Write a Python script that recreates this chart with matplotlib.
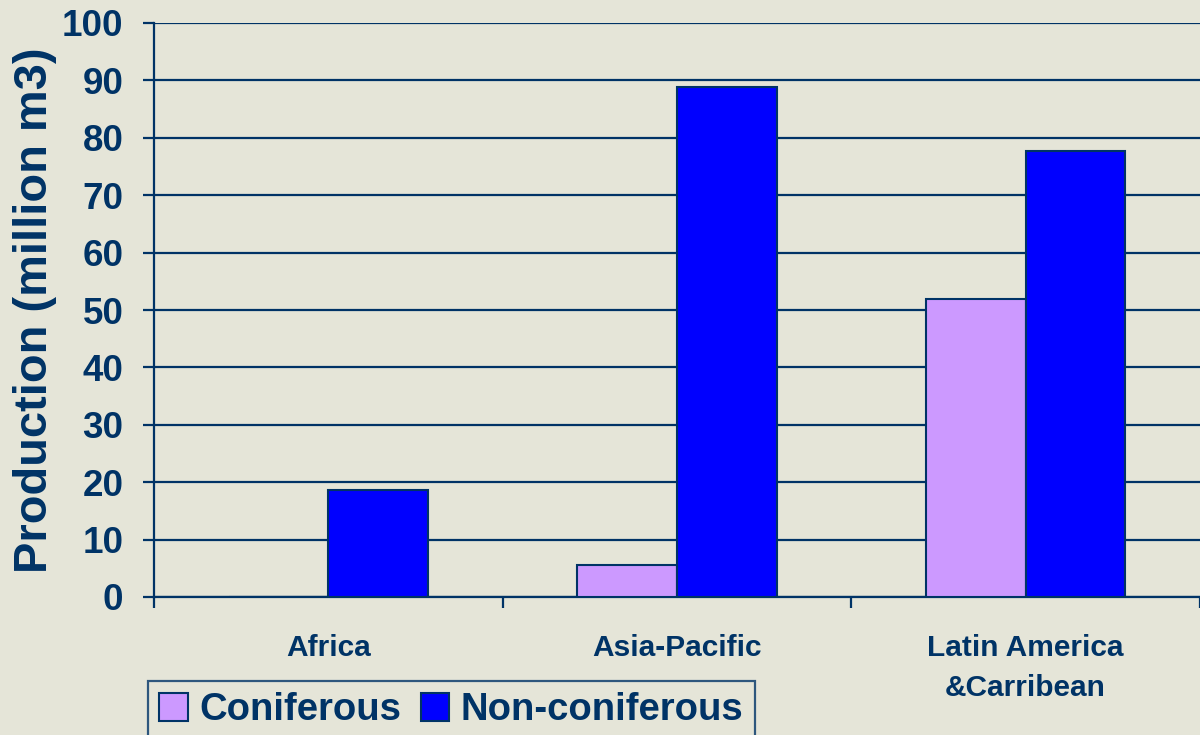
import matplotlib.pyplot as plt
import numpy as np

regions = ["Africa", "Asia-Pacific", "Latin America\n&Carribean"]
coniferous = [0.0, 5.6, 51.9]
non_coniferous = [18.6, 88.9, 77.7]

navy = "#003366"
background = "#E5E5D8"
colours = {"Coniferous": "#CC99FF", "Non-coniferous": "#0000FF"}

plt.rcParams.update({"font.family": ["Liberation Sans", "DejaVu Sans"], "font.weight": "bold"})

fig = plt.figure(figsize=(12, 7.35), dpi=100, facecolor=background)
ax = fig.add_axes([154 / 1200, 1 - 597 / 735, 1 - 154 / 1200, (597 - 23) / 735])
ax.set_facecolor(background)

x = np.arange(len(regions))
width = 0.286
ax.bar(x - width / 2, coniferous, width, color=colours["Coniferous"],
       edgecolor=navy, linewidth=1.5, label="Coniferous", zorder=3)
ax.bar(x + width / 2, non_coniferous, width, color=colours["Non-coniferous"],
       edgecolor=navy, linewidth=1.5, label="Non-coniferous", zorder=3)

ax.set_xlim(-0.5, len(regions) - 0.5)
ax.set_ylim(0, 100)
ax.set_yticks(np.arange(0, 101, 10))
ax.yaxis.grid(True, color=navy, linewidth=1.6, zorder=0)
ax.tick_params(axis="y", colors=navy, labelsize=26.5, length=8, width=1.6, pad=14,
               labelcolor=navy)

# boundaries carry the tick marks, centres carry the labels
ax.set_xticks(np.arange(-0.5, len(regions), 1.0))
ax.set_xticklabels([])
ax.tick_params(axis="x", which="major", colors=navy, length=8, width=1.6)
ax.set_xticks(x, minor=True)
ax.set_xticklabels(regions, minor=True, fontsize=21.5, color=navy, fontweight="bold",
                   linespacing=1.5)
ax.tick_params(axis="x", which="minor", length=0, pad=27)

for side in ["top", "right"]:
    ax.spines[side].set_visible(False)
for side in ["left", "bottom"]:
    ax.spines[side].set_color(navy)
    ax.spines[side].set_linewidth(1.6)

ax.set_ylabel("Production (million m3)", fontsize=33.8, color=navy, fontweight="bold")
ax.yaxis.set_label_coords(-0.093, 0.5)

handles, labels = ax.get_legend_handles_labels()
legend = fig.legend(
    handles, labels, loc="upper left", bbox_to_anchor=(148 / 1200, 1 - 681 / 735),
    ncol=2, fontsize=27.5, frameon=True, fancybox=False, handlelength=0.75,
    handleheight=0.75, handletextpad=0.3, columnspacing=0.5, borderpad=0.3,
    borderaxespad=0.0,
)
legend.get_frame().set_edgecolor(navy)
legend.get_frame().set_facecolor(background)
legend.get_frame().set_linewidth(1.6)
for text in legend.get_texts():
    text.set_color(navy)

fig.savefig("out.png", dpi=100, facecolor=background)
